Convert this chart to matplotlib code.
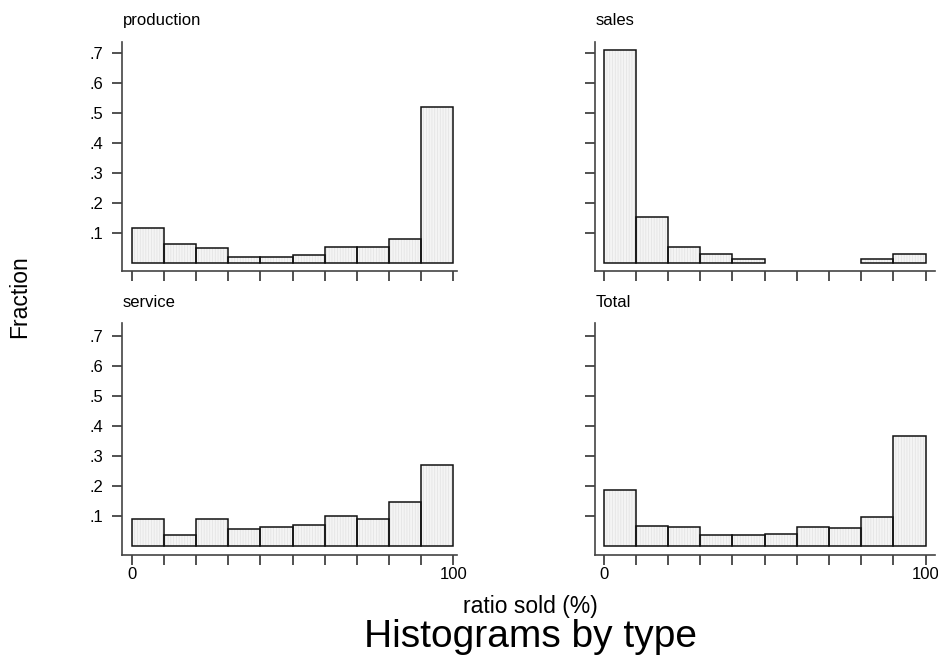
import numpy as np
import matplotlib
matplotlib.use("Agg")
import matplotlib.pyplot as plt

plt.rcParams["font.family"] = ["Liberation Sans", "DejaVu Sans"]
plt.rcParams["hatch.linewidth"] = 0.5

# ---------------------------------------------------------------------------
# Data: fraction per 10-point bin of "ratio sold (%)"
# ---------------------------------------------------------------------------
bin_edges = np.arange(0, 101, 10)

production = [0.116, 0.062, 0.049, 0.020, 0.020, 0.024, 0.051, 0.054, 0.079, 0.518]
sales      = [0.708, 0.151, 0.054, 0.028, 0.012, 0.0, 0.0, 0.0, 0.012, 0.028]
service    = [0.088, 0.037, 0.088, 0.056, 0.061, 0.068, 0.098, 0.088, 0.146, 0.270]
total      = [0.184, 0.066, 0.063, 0.034, 0.034, 0.038, 0.061, 0.060, 0.094, 0.367]

panel_titles = ["production", "sales", "service", "Total"]
panel_data = [production, sales, service, total]

ytick_vals = [0.1, 0.2, 0.3, 0.4, 0.5, 0.6, 0.7]
ytick_labels = [".1", ".2", ".3", ".4", ".5", ".6", ".7"]
xtick_vals = bin_edges
xtick_labels = ["0", "", "", "", "", "", "", "", "", "", "100"]

# ---------------------------------------------------------------------------
# Layout (pixel rectangles of the axis frames, 938x655 figure)
# ---------------------------------------------------------------------------
W, H = 938, 655
fig = plt.figure(figsize=(W / 100, H / 100), dpi=100)

# (left px, right px, top px, bottom px, xlim)
rects = [
    (122.0, 456.7, 41.7, 270.7, (-3.0, 101.0)),
    (594.7, 935.0, 41.7, 270.7, (-2.8, 102.9)),
    (122.0, 456.7, 323.3, 555.0, (-3.0, 101.0)),
    (594.7, 935.0, 323.3, 555.0, (-2.8, 102.9)),
]
ylims = [(-0.0267, 0.737), (-0.0267, 0.737), (-0.031, 0.741), (-0.031, 0.741)]

for i, (title, vals) in enumerate(zip(panel_titles, panel_data)):
    l, r, t, b, xlim = rects[i]
    ax = fig.add_axes([l / W, 1 - b / H, (r - l) / W, (b - t) / H])
    vals = np.asarray(vals)
    lefts = bin_edges[:-1]
    keep = vals > 0

    # fill with fine vertical hatching, then black outlines on top
    ax.bar(lefts[keep], vals[keep], width=10, align="edge",
           facecolor="#f4f4f4", edgecolor="#e2e2e2", hatch="||||||",
           linewidth=0, zorder=2)
    ax.bar(lefts[keep], vals[keep], width=10, align="edge",
           facecolor="none", edgecolor="#111111", linewidth=1.1, zorder=3)

    ax.set_xlim(*xlim)
    ax.set_ylim(*ylims[i])

    for side in ("top", "right"):
        ax.spines[side].set_visible(False)
    for side in ("left", "bottom"):
        ax.spines[side].set_color("#444444")
        ax.spines[side].set_linewidth(1.2)

    ax.set_yticks(ytick_vals)
    ax.set_xticks(xtick_vals)
    ax.tick_params(axis="y", direction="out", length=7.2, width=1.1,
                   color="#222222", pad=6.5, labelsize=12)
    ax.tick_params(axis="x", direction="out", length=7.0, width=1.1,
                   color="#222222", pad=1.5, labelsize=12)

    if i % 2 == 0:
        ax.set_yticklabels(ytick_labels)
    else:
        ax.set_yticklabels([])
    if i >= 2:
        ax.set_xticklabels(xtick_labels)
    else:
        ax.set_xticklabels([])

    fig.text(l / W + 0.001, 1 - (t - 21) / H, title, fontsize=12,
             ha="left", va="center")

fig.text(20 / W, 1 - 297 / H, "Fraction", rotation=90, fontsize=16.5,
         ha="center", va="center")
fig.text(530 / W, 1 - 607 / H, "ratio sold (%)", fontsize=16.5,
         ha="center", va="center")
fig.text(530 / W, 1 - 637 / H, "Histograms by type", fontsize=28,
         ha="center", va="center")

fig.savefig("out.png", dpi=100)
